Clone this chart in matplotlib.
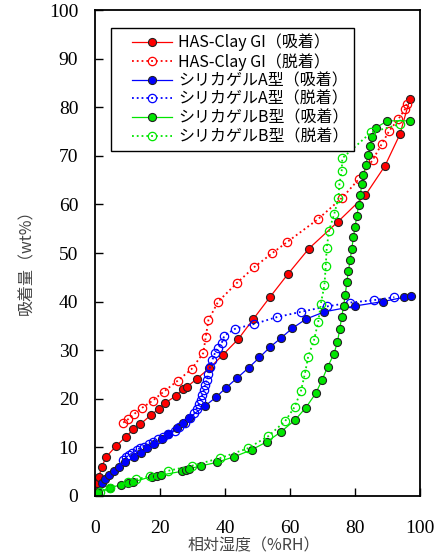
import numpy as np
import matplotlib
matplotlib.use("Agg")
import matplotlib.pyplot as plt
from matplotlib.legend_handler import HandlerLine2D

# HAS-Clay GI
has_ads_x = [0.2, 0.6, 1.2, 2.1, 3.4, 6.5, 9.5, 11.8, 14.0, 17.1, 19.8, 21.5, 24.9, 27.0, 28.4,
             31.3, 35.2, 39.3, 44.1, 48.7, 53.8, 59.4, 65.8, 74.7, 83.2, 89.2, 93.8, 96.9]
has_ads_y = [1.4, 2.7, 4.0, 6.0, 8.0, 10.3, 12.2, 13.7, 14.8, 16.6, 18.0, 19.1, 20.6, 22.0, 22.5,
             24.1, 26.3, 29.0, 32.3, 36.4, 40.9, 45.7, 50.9, 56.4, 61.9, 67.9, 74.4, 81.7]
has_des_x = [8.7, 10.2, 12.1, 14.6, 17.7, 21.2, 25.4, 29.7, 33.3, 34.1, 34.9, 37.9, 43.6, 49.0,
             54.4, 59.2, 68.5, 76.1, 81.3, 85.4, 88.2, 90.6, 93.3, 95.4, 95.9]
has_des_y = [15.1, 15.8, 16.9, 18.2, 19.6, 21.5, 23.7, 26.1, 29.4, 32.8, 36.2, 40.0, 43.8, 47.1,
             49.9, 52.3, 56.9, 61.4, 65.3, 69.1, 72.4, 75.2, 77.5, 79.6, 80.7]

# シリカゲルA型
a_ads_x = [0.3, 1.0, 2.1, 3.1, 4.4, 5.8, 7.5, 9.2, 12.1, 14.2, 16.1, 18.3, 20.7, 22.6, 25.1, 27.2,
           28.9, 33.8, 37.2, 40.2, 43.6, 47.3, 50.6, 53.8, 57.2, 60.7, 64.9, 70.6, 80.0, 88.5,
           95.2, 97.1]
a_ads_y = [0.4, 0.9, 2.6, 3.4, 4.3, 5.2, 5.9, 6.9, 8.0, 8.9, 9.8, 10.8, 11.8, 12.8, 13.9, 15.0,
           16.1, 18.5, 20.3, 22.2, 24.2, 26.4, 28.5, 30.6, 32.5, 34.5, 36.4, 37.9, 39.1, 40.0,
           40.9, 41.2]
a_des_x = [8.5, 9.5, 10.5, 11.5, 12.8, 14.0, 15.0, 16.5, 18.0, 19.5, 21.0, 22.5, 24.5, 26.0, 27.7,
           29.2, 30.5, 31.3, 32.0, 32.5, 33.0, 33.5, 33.9, 34.4, 34.9, 35.4, 36.1, 36.9, 37.9,
           39.0, 39.8, 43.1, 49.0, 55.9, 63.4, 71.3, 78.5, 85.8, 92.1]
a_des_y = [7.4, 8.0, 8.4, 8.8, 9.5, 9.9, 10.1, 10.6, 11.2, 11.7, 12.2, 12.8, 13.4, 14.1, 15.0,
           16.0, 17.0, 18.0, 19.0, 19.8, 20.8, 21.8, 22.8, 23.9, 25.2, 26.6, 28.0, 29.4, 30.4,
           31.5, 33.0, 34.4, 35.4, 36.8, 37.9, 39.0, 39.8, 40.3, 40.9]

# シリカゲルB型
b_ads_x = [0.5, 1.0, 4.6, 8.0, 10.2, 11.8, 17.4, 19.0, 20.3, 26.9, 27.9, 29.0, 32.6, 37.4, 42.9,
           48.2, 53.0, 57.2, 61.5, 64.9, 67.9, 69.9, 71.6, 73.5, 74.6, 75.3, 75.9, 76.5, 77.0,
           77.5, 78.0, 78.5, 79.0, 79.5, 80.0, 80.6, 81.1, 81.6, 82.1, 82.6, 83.3, 84.1, 84.6,
           85.3, 86.5, 90.0, 96.9]
b_ads_y = [0.2, 0.6, 1.7, 2.3, 2.7, 2.9, 4.0, 4.1, 4.3, 5.1, 5.3, 5.6, 6.2, 6.9, 8.1,
           9.5, 11.2, 13.2, 15.6, 18.2, 21.1, 23.9, 26.6, 29.2, 31.7, 34.3, 36.8, 39.1, 41.4,
           44.1, 46.4, 48.6, 50.8, 53.2, 55.4, 57.6, 59.9, 61.9, 64.1, 66.0, 68.2, 70.2, 72.1,
           73.9, 75.8, 77.2, 77.2]
b_des_x = [1.5, 4.5, 10.2, 12.6, 16.9, 22.6, 29.7, 38.5, 47.0, 53.3, 58.5, 61.5, 63.4, 64.6,
           65.6, 67.4, 68.7, 69.5, 70.6, 71.0, 71.3, 72.0, 73.6, 74.9, 75.2, 75.9, 76.1, 84.9,
           93.8]
b_des_y = [0.9, 1.6, 2.9, 3.4, 4.1, 5.2, 6.2, 7.8, 9.8, 12.3, 15.4, 18.4, 21.7, 25.2,
           28.7, 32.1, 35.9, 39.6, 43.4, 47.3, 51.0, 54.6, 58.0, 61.3, 64.2, 66.9, 69.5, 74.8,
           76.5]

labels = ["HAS-Clay GI（吸着）", "HAS-Clay GI（脱着）",
          "シリカゲルA型（吸着）", "シリカゲルA型（脱着）",
          "シリカゲルB型（吸着）", "シリカゲルB型（脱着）"]

jp = ["Noto Sans CJK JP", "DejaVu Sans"]

fig = plt.figure(figsize=(4.39, 5.6), dpi=100)
ax = fig.add_axes([0.2164, 0.1143, 0.7403, 0.8678])

red, blue, green = "#ff0000", "#0000ff", "#00e600"


def ads(x, y, c, lab):
    ax.plot(x, y, "-", color=c, lw=0.9, marker="o", ms=5.8, mfc=c, mec="#222222", mew=0.8,
            label=lab)


def des(x, y, c, lab):
    ax.plot(x, y, ":", color=c, lw=1.3, marker="o", ms=6, mfc="none", mec=c, mew=0.9, label=lab)


ads(has_ads_x, has_ads_y, red, labels[0])
des(has_des_x, has_des_y, red, labels[1])
ads(a_ads_x, a_ads_y, blue, labels[2])
des(a_des_x, a_des_y, blue, labels[3])
ads(b_ads_x, b_ads_y, green, labels[4])
des(b_des_x, b_des_y, green, labels[5])

ax.set_xlim(0, 100)
ax.set_ylim(0, 100)
ax.set_xticks(np.arange(0, 101, 20))
ax.set_yticks(np.arange(0, 101, 10))
ax.tick_params(direction="in", length=6, width=1, labelsize=14)
ax.tick_params(axis="x", pad=17)
ax.tick_params(axis="y", pad=12)
for t in ax.get_xticklabels() + ax.get_yticklabels():
    t.set_fontfamily("Liberation Serif")
for s in ax.spines.values():
    s.set_linewidth(1.3)

ax.set_xlabel("相対湿度（%RH）", family=jp, fontsize=11.5, color="#444444")
ax.set_ylabel("吸着量（wt%）", family=jp, fontsize=11.5, color="#444444")
ax.xaxis.set_label_coords(0.49, -0.085)
ax.yaxis.set_label_coords(-0.185, 0.49)

leg = ax.legend(loc="upper left", bbox_to_anchor=(0.049, 0.963), borderaxespad=0,
                prop={"family": jp, "size": 11.5}, numpoints=1, handlelength=3.5,
                handletextpad=0.35, labelspacing=0.1, borderpad=0.35, fancybox=False,
                framealpha=1, edgecolor="black",
                handler_map={matplotlib.lines.Line2D: HandlerLine2D(xpad=1.0)})
leg.get_frame().set_linewidth(1.0)

fig.savefig("out.png", dpi=100)
